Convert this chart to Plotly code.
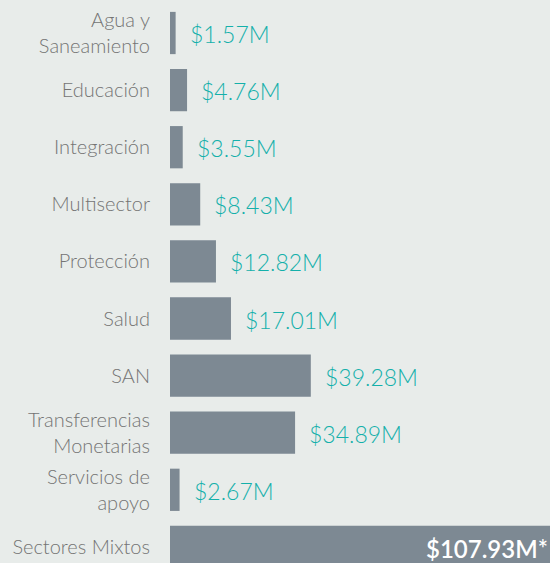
import plotly.graph_objects as go

sectores = ["Agua y<br>Saneamiento", "Educación", "Integración", "Multisector", "Protección",
            "Salud", "SAN", "Transferencias<br>Monetarias", "Servicios de<br>apoyo", "Sectores Mixtos"]
montos = [1.57, 4.76, 3.55, 8.43, 12.82, 17.01, 39.28, 34.89, 2.67, 107.93]
etiquetas = ["$1.57M", "$4.76M", "$3.55M", "$8.43M", "$12.82M", "$17.01M",
             "$39.28M", "$34.89M", "$2.67M", "$107.93M*"]

fondo = "#e8ecea"
gris_barra = "#7d8993"
turquesa = "#14b0aa"
fuente = "Lato"

idx = list(range(len(sectores)))

fig = go.Figure()
fig.add_trace(go.Bar(
    x=montos,
    y=idx,
    orientation="h",
    marker=dict(color=gris_barra, line=dict(width=0)),
    cliponaxis=True,
    width=0.74,
    hoverinfo="skip",
))

# etiquetas de valor a la derecha de cada barra
for i in idx[:-1]:
    fig.add_annotation(
        x=montos[i], y=i, xref="x", yref="y",
        xanchor="left", xshift=12, yshift=-1,
        text=etiquetas[i], showarrow=False,
        font=dict(family=fuente, size=23, color=turquesa, weight=300),
    )

# la ultima etiqueta va dentro de la barra, que se corta en el borde
fig.add_annotation(
    x=1, xref="paper", xanchor="right",
    y=idx[-1], yref="y", yshift=-2,
    text=etiquetas[-1], showarrow=False,
    font=dict(family=fuente, size=24, color="white", weight=600),
)

fig.update_layout(
    width=550, height=563,
    margin=dict(l=170, r=0, t=0, b=0),
    paper_bgcolor=fondo, plot_bgcolor=fondo,
    showlegend=False,
    bargap=0.26,
)
fig.update_xaxes(range=[0, 106], visible=False)
fig.update_yaxes(
    range=[9.282, -0.578],
    tickmode="array", tickvals=idx, ticktext=sectores,
    tickfont=dict(family=fuente, size=20, color="#747474", weight=300),
    showgrid=False, zeroline=False, showline=False,
    ticks="", ticklabelstandoff=19,
)

fig.write_html("out.html", config={"displayModeBar": False},
               post_script="document.body.style.margin='0';")
